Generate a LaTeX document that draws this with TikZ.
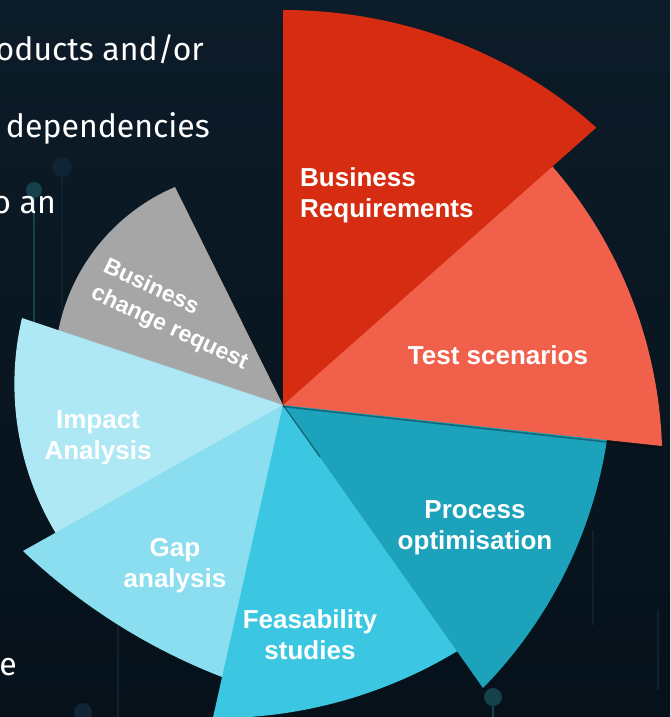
\documentclass[tikz,border=0pt]{standalone}
\usepackage{fontspec}
\setmainfont{Liberation Sans}
\newfontfamily\slidefont{Fira Sans}

\definecolor{bgtop}{HTML}{0C1C28}
\definecolor{bgbot}{HTML}{06111A}
\definecolor{wred}{HTML}{D62D12}
\definecolor{wsalmon}{HTML}{F1604A}
\definecolor{wteal}{HTML}{1CA2BB}
\definecolor{wcyan}{HTML}{3BC7E2}
\definecolor{wgap}{HTML}{8ADEEF}
\definecolor{wimpact}{HTML}{AEE8F4}
\definecolor{wgray}{HTML}{A6A6A6}
\definecolor{decodot}{HTML}{16404C}
\definecolor{decodim}{HTML}{0F2434}
\definecolor{decoline}{HTML}{0D2130}

\begin{document}
\begin{tikzpicture}[x=1pt,y=-1pt,
  lbl/.style={text=white, inner sep=0pt, align=center,
    font=\bfseries\fontsize{26}{31}\selectfont},
  smalllbl/.style={text=white, inner sep=0pt, align=left,
    font=\bfseries\fontsize{23}{29}\selectfont},
  prose/.style={text=white, inner sep=0pt, anchor=base east,
    font=\slidefont\fontsize{32}{38}\selectfont},
  trace/.style={line width=1.6pt},
  pad/.style={circle, inner sep=0pt},
  edgeshade/.style={black, opacity=.35, line width=1.6pt}
]
% canvas
\path[use as bounding box] (0,0) rectangle (670,717);
\clip (0,0) rectangle (670,717);
\shade[top color=bgtop, bottom color=bgbot] (0,0) rectangle (670,717);

% faint circuit traces in the background
\draw[trace, decoline] (62,167) -- (62,340);
\draw[trace, decodot] (34,190) -- (34,330);
\draw[trace, decoline] (118,620) -- (118,717);
\draw[trace, decoline] (593,530) -- (593,625);
\draw[trace, decoline] (658,610) -- (658,690);
\draw[trace, decodot] (493,697) -- (493,717);
\draw[trace, decoline] (83,712) -- (83,717);
\node[pad, fill=decodim, minimum size=20pt] (padA) at (62,167) {};
\node[pad, fill=decodot, minimum size=16pt] (padB) at (34,190) {};
\node[pad, fill=decodot, minimum size=18pt] (padC) at (493,697) {};
\node[pad, fill=decodim, minimum size=18pt] (padD) at (83,712) {};

% left-hand prose, cut by the frame
\node[prose] (p1) at (204,60) {oducts and/or};
\node[prose] (p2) at (210,137) {dependencies};
\node[prose] (p3) at (56,213) {o an};
\node[prose] (p4) at (17,675) {e};

% wedges, bottom-most first; each one tucks under its neighbour
\coordinate (C) at (283,405);
\fill[wgray] (C) -- (56.43,341.80)
  arc[start angle=188, end angle=246.9, radius=198.3] -- cycle;
\fill[wimpact] (C) -- (22,318)
  arc[start angle=193.17, end angle=145, radius=289.6] -- cycle;
\fill[wgap] (C) -- (23,551)
  arc[start angle=133.5, end angle=109.5, radius=608.5] -- cycle;
\fill[wcyan] (C) -- (212,722) -- (217.1,718.1)
  arc[start angle=90, end angle=57, radius=464] -- (495,625) -- cycle;
\fill[wteal] (C) -- (483,688)
  arc[start angle=44.42, end angle=8.70, radius=452] -- (615,420) -- cycle;
\coordinate (tealShade) at (320,457);
\draw[black, opacity=.5, line width=1pt] (C) -- (tealShade);
% soft shade cast by the salmon wedge
\coordinate (shadeA) at (283,406.5);
\coordinate (shadeB) at (662,448);
\draw[edgeshade] (shadeA) -- (shadeB);
\fill[wsalmon] (C) -- (662,446)
  arc[start angle=-1.96, end angle=-43, radius=451] -- cycle;
\fill[wred] (C) -- (283,10)
  arc[start angle=-90, end angle=-44.6, x radius=440, y radius=395] -- cycle;

% labels
\node[lbl, align=left, anchor=west] (req) at (300,195) {Business\\Requirements};
\node[lbl] (test) at (498,355) {Test scenarios};
\node[lbl] (proc) at (475,528) {Process\\optimisation};
\node[lbl] (feas) at (310,635) {Feasability\\studies};
\node[lbl] (gap) at (175,566) {Gap\\analysis};
\node[lbl] (impact) at (98,438) {Impact\\Analysis};
\node[smalllbl, rotate=-25, anchor=north west] (change) at (109,256)
  {Business\\change request};
\end{tikzpicture}
\end{document}
